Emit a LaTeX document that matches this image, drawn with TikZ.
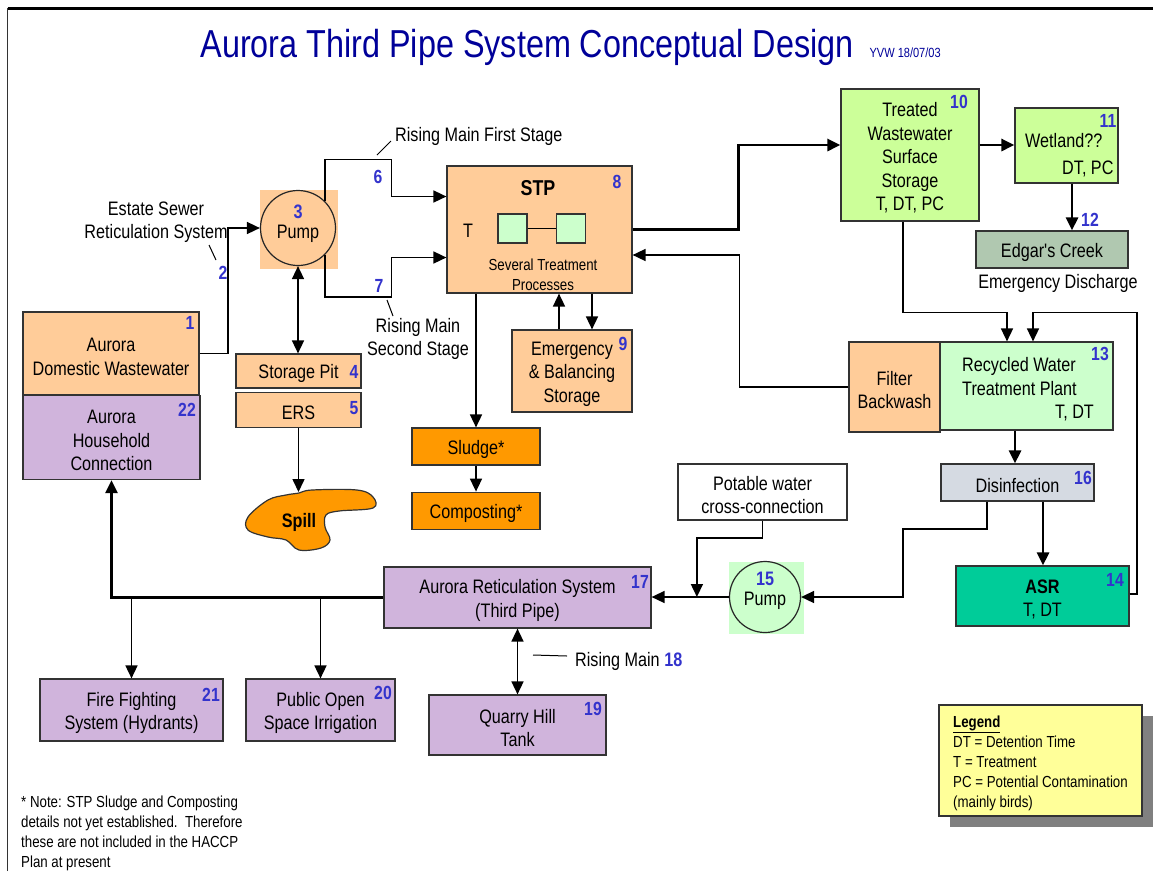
\documentclass[tikz,border=0pt]{standalone}
\usepackage{fontspec}
\setmainfont{Liberation Sans}[FakeStretch=0.83, Ligatures=TeXOff]
\usepackage{xcolor}
\usetikzlibrary{arrows.meta, positioning, calc}

\definecolor{titleblue}{HTML}{000099}
\definecolor{numblue}{HTML}{3333CC}
\definecolor{peach}{HTML}{FFCC99}
\definecolor{amber}{HTML}{FF9900}
\definecolor{lilac}{HTML}{D0B4DC}
\definecolor{lime}{HTML}{CCFF99}
\definecolor{mint}{HTML}{CCFFCC}
\definecolor{sage}{HTML}{B0C8B0}
\definecolor{steel}{HTML}{D5DAE2}
\definecolor{jade}{HTML}{00CC99}
\definecolor{lemon}{HTML}{FFFF99}
\definecolor{shade}{HTML}{808080}

\newcommand{\boxstrut}{\rule{0pt}{20pt}}

\begin{document}
\begin{tikzpicture}[x=1pt, y=-1pt,
   txt/.style={font=\fontsize{19.5}{23.5}\selectfont, inner sep=0pt, align=center},
   small/.style={font=\fontsize{16}{20}\selectfont, inner sep=0pt, align=left},
   box/.style={rectangle, draw=black!80, line width=1.2pt, txt},
   num/.style={text=numblue, font=\fontsize{19}{20}\selectfont\bfseries, inner sep=0pt},
   pumpc/.style={circle, draw=black!85, line width=1.2pt, inner sep=0pt},
   pipe/.style={line width=1.6pt, -{Triangle[length=13pt,width=12pt]}},
   fatpipe/.style={line width=2.8pt, -{Triangle[length=13pt,width=12pt]}},
   dbl/.style={line width=1.6pt, {Triangle[length=13pt,width=12pt]}-{Triangle[length=13pt,width=12pt]}},
   leader/.style={line width=1pt},
   node distance=3pt
]
   \useasboundingbox (0,0) rectangle (1153,871);
   \draw[line width=1.5pt, black!80] (7.5,871) -- (7.5,8);
   \draw[line width=3pt] (7.5,8) -- (1153,8);

   % Title
   \node[text=titleblue, font=\fontsize{39}{40}\selectfont, anchor=base] (title) at (527,57) {Aurora Third Pipe System Conceptual Design};
   \node[text=titleblue, font=\fontsize{13.3}{14}\selectfont, anchor=base west] (date) at (866,57) {YVW 18/07/03};

   % Sewer side
   \node[box, fill=peach, minimum width=176pt, minimum height=83pt] (dww) at (111,353.5) {\boxstrut Aurora\\Domestic Wastewater};
   \node[box, fill=lilac, minimum width=177pt, minimum height=84pt] (house) at (111.5,437.5) {\boxstrut Aurora\\Household\\Connection};
   \node[txt] (estate) at (156,222) {Estate Sewer\\Reticulation System};
   \node[fill=peach, minimum width=78pt, minimum height=79pt, inner sep=0pt] (pbg3) at (299,229.5) {};
   \node[pumpc, minimum size=75pt] (pump3) at (298,228) {};
   \node[txt] (pump3t) at (298,224) {{\color{numblue}\bfseries 3}\\[-3.5pt]Pump};
   \node[box, fill=peach, minimum width=125pt, minimum height=34pt] (pit) at (298.5,371) {\boxstrut Storage Pit};
   \node[box, fill=peach, minimum width=125pt, minimum height=35pt, below=3pt of pit] (ers) {\boxstrut ERS};
   \draw[fill=amber, draw=black!80, line width=1.2pt] plot[smooth cycle, tension=0.6] coordinates {(299,493) (312,490) (357,490) (373,497) (373,508) (339,511) (326,515) (325,527) (330,540) (321,548) (299,550) (286,540) (268,537) (248,530) (248,517) (268,500) (286,495)};
   \node[font=\fontsize{19.5}{20}\selectfont\bfseries, inner sep=0pt] (spill) at (299,522) {Spill};
   \coordinate (spilltop) at (298.5,492);

   % Rising mains
   \node[txt, anchor=west] (rm1) at (395,136) {Rising Main First Stage};
   \node[txt] (rm2) at (418,339) {Rising Main\\Second Stage};

   % STP
   \node[box, fill=peach, minimum width=185pt, minimum height=127pt] (stp) at (539.5,229.5) {};
   \node[font=\fontsize{21.5}{22}\selectfont\bfseries, inner sep=0pt] (stpt) at (538,188) {STP};
   \node[txt] (tlab) at (468,231) {T};
   \node[fill=mint, draw=black!80, line width=1.2pt, minimum size=29pt, inner sep=0pt] (sq1) at (512.5,228.5) {};
   \node[fill=mint, draw=black!80, line width=1.2pt, minimum size=29pt, inner sep=0pt, right=28pt of sq1] (sq2) {};
   \draw[line width=1.2pt] (sq1) -- (sq2);
   \node[small, align=center] (stpsub) at (543,275) {Several Treatment\\Processes};
   \node[box, fill=amber, minimum width=128pt, minimum height=37pt] (sludge) at (476,446.5) {\boxstrut Sludge*};
   \node[box, fill=amber, minimum width=128pt, minimum height=37pt, below=26pt of sludge] (compost) {\boxstrut Composting*};
   \node[box, fill=peach, minimum width=120pt, minimum height=82pt] (ebs) at (572,371) {\boxstrut Emergency\\\& Balancing\\Storage};

   % Treated water
   \node[box, fill=lime, minimum width=138pt, minimum height=132pt] (tws) at (910,155) {\boxstrut Treated\\Wastewater\\Surface\\Storage\\T, DT, PC};
   \node[box, fill=lime, minimum width=103pt, minimum height=75pt] (wet) at (1066.5,145.5) {};
   \node[txt, align=left, anchor=west] (wett) at (1025,155) {Wetland??\\[3.5pt]\hspace*{37pt}DT, PC};
   \node[box, fill=sage, minimum width=152pt, minimum height=37pt] (creek) at (1052,249.5) {\boxstrut Edgar's Creek};
   \node[txt] (emdis) at (1058,283) {Emergency Discharge};
   \node[box, fill=peach, minimum width=91pt, minimum height=90pt] (fb) at (894.5,387) {\boxstrut Filter\\Backwash};
   \node[box, fill=mint, minimum width=173pt, minimum height=88pt] (rwtp) at (1026.5,386) {};
   \node[txt, align=left, anchor=west] (rwtpt) at (962,389.5) {Recycled Water\\Treatment Plant\\\hspace*{93pt}T, DT};
   \node[box, fill=steel, minimum width=153pt, minimum height=37pt] (dis) at (1017.5,482.5) {\boxstrut Disinfection};
   \node[box, fill=jade, minimum width=173pt, minimum height=60pt] (asr) at (1042.5,596) {\boxstrut\textbf{ASR}\\T, DT};
   \node[fill=mint, minimum width=75pt, minimum height=72pt, inner sep=0pt] (pbg15) at (766.5,598) {};
   \node[pumpc, minimum size=71pt] (pump15) at (765,597) {};
   \node[txt] (pump15t) at (765,591) {{\color{numblue}\bfseries 15}\\[-3.5pt]Pump};
   \node[box, fill=white, minimum width=169pt, minimum height=56pt] (pot) at (762.5,492) {\boxstrut Potable water\\cross-connection};

   % Third pipe users
   \node[box, fill=lilac, minimum width=267pt, minimum height=61pt] (ret) at (517.5,597.5) {\boxstrut Aurora Reticulation System\\(Third Pipe)};
   \node[box, fill=lilac, minimum width=183pt, minimum height=62pt] (fire) at (131.5,710) {\boxstrut Fire Fighting\\System (Hydrants)};
   \node[box, fill=lilac, minimum width=149pt, minimum height=62pt] (pos) at (320.5,710) {\boxstrut Public Open\\Space Irrigation};
   \node[box, fill=lilac, minimum width=177pt, minimum height=60pt] (qht) at (517.5,725) {\boxstrut Quarry Hill\\Tank};
   \node[txt, anchor=west] (rm18) at (575,661) {Rising Main {\color{numblue}\bfseries 18}};

   % Numbers
   \node[num] (n1) at (190,323) {1};
   \node[num] (n2) at (223,273) {2};
   \node[num] (n4) at (354,372) {4};
   \node[num] (n5) at (354,408) {5};
   \node[num] (n6) at (378,177) {6};
   \node[num] (n7) at (379,286) {7};
   \node[num] (n8) at (617,182) {8};
   \node[num] (n9) at (623,344) {9};
   \node[num] (n10) at (959,102) {10};
   \node[num] (n11) at (1108,121) {11};
   \node[num] (n12) at (1090,220) {12};
   \node[num] (n13) at (1100,354) {13};
   \node[num] (n14) at (1115,580) {14};
   \node[num] (n16) at (1083,478) {16};
   \node[num] (n17) at (640,582) {17};
   \node[num] (n19) at (593,709) {19};
   \node[num] (n20) at (383,693) {20};
   \node[num] (n21) at (211,695) {21};
   \node[num] (n22) at (187,410) {22};

   % Pipes
   \draw[pipe] (dww.east) -| ($(pump3.west)+(-32,0)$) -- (pump3.west);
   \draw[pipe] (pump3.north east) |- ($(stp.west)+(-55,-70)$) |- ($(stp.west)+(0,-33)$);
   \draw[pipe] (pump3.south east) |- ($(stp.west)+(-55,67.5)$) |- ($(stp.west)+(0,28)$);
   \draw[dbl] (pump3.south) -- (pump3.south |- pit.north);
   \draw[pipe] (ers.south) -- (spilltop);
   \draw[pipe] ($(stp.south)+(-63.5,0)$) -- (sludge.north);
   \draw[pipe] (sludge) -- (compost);
   \draw[pipe] ($(ebs.north)+(-13,0)$) -- ($(stp.south)+(19.5,0)$);
   \draw[pipe] ($(stp.south)+(52.5,0)$) -- ($(ebs.north)+(20,0)$);
   \draw[fatpipe] (stp.east) -| ($(tws.west)+(-102,-10)$) -- ($(tws.west)+(0,-10)$);
   \draw[pipe] (fb.west) -| ($(stp.east)+(107,25.5)$) -- ($(stp.east)+(0,25.5)$);
   \draw[fatpipe] ($(tws.east)+(0,-10)$) -- ($(wet.west)+(0,-0.5)$);
   \draw[fatpipe] ($(wet.south)+(5.5,0)$) -- ($(creek.north)+(20,0)$);
   \draw[pipe] ($(tws.south)+(-7,0)$) |- ($(rwtp.north)+(-19.5,-29)$) -- ($(rwtp.north)+(-19.5,0)$);
   \draw[pipe] ($(asr.east)+(0,-2)$) -| ($(rwtp.north)+(110.5,-29)$) -| ($(rwtp.north)+(6.5,0)$);
   \draw[fatpipe] ($(rwtp.south)+(-11.5,0)$) -- ($(dis.north)+(-2.5,0)$);
   \draw[fatpipe] ($(dis.south)+(25.5,0)$) -- ($(asr.north)+(0.5,0)$);
   \draw[pipe] ($(dis.south)+(-30.5,0)$) |- ($(pump15.east)+(102,-68)$) |- (pump15.east);
   \draw[pipe] (pot.south) |- ($(pump15.west)+(-32,-59)$) -- ($(pump15.west)+(-32,0)$);
   \draw[pipe] (pump15.west) -- (pump15.west -| ret.east);
   \draw[fatpipe] (ret.west) -| (house.south);
   \draw[pipe] (fire.north |- ret.west) -- (fire.north);
   \draw[pipe] (pos.north |- ret.west) -- (pos.north);
   \draw[dbl] (ret.south) -- (qht.north);

   % Leaders
   \draw[leader] ($(n2)+(-14,-28)$) -- ($(n2)+(-7,-13)$);
   \draw[leader] ($(rm1.west)+(-18,19)$) -- ($(rm1.west)+(-4,5)$);
   \draw[leader] ($(rm2)+(-31,-39)$) -- ($(rm2)+(-25,-23)$);
   \draw[leader] ($(rm18.west)+(-42,-6)$) -- ($(rm18.west)+(-8,-5)$);

   % Legend and note
   \node[fill=shade, minimum width=203pt, minimum height=111pt, inner sep=0pt] (legshadow) at (1051.5,771.5) {};
   \node[fill=lemon, draw=black!80, line width=1.2pt, minimum width=203pt, minimum height=111pt] (legend) at (1040.5,760.5) {};
   \node[small, anchor=west] (legt) at (953,763) {\underline{\textbf{Legend}}\\DT = Detention Time\\T = Treatment\\PC = Potential Contamination\\(mainly birds)};
   \node[small, anchor=west] (note) at (21,833) {* Note: STP Sludge and Composting\\details not yet established.\ \ Therefore\\these are not included in the HACCP\\Plan at present};
\end{tikzpicture}
\end{document}
